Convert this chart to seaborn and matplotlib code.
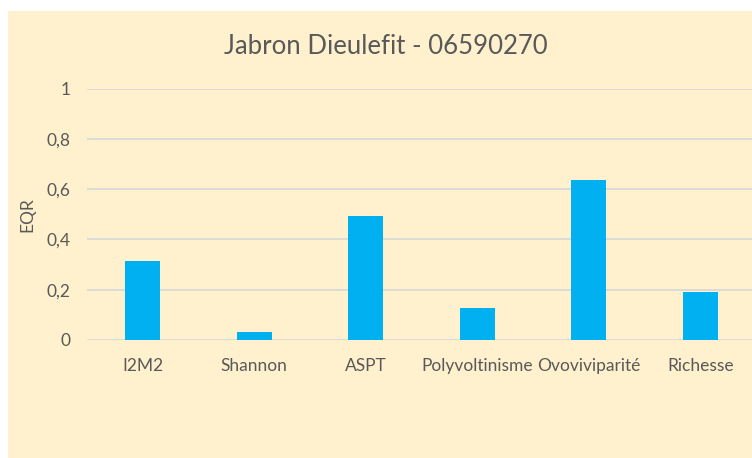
import matplotlib
matplotlib.use("Agg")
import matplotlib.pyplot as plt
from matplotlib.patches import Rectangle
import seaborn as sns
import pandas as pd

# Indices and their EQR values
categories = ["I2M2", "Shannon", "ASPT", "Polyvoltinisme", "Ovoviviparité", "Richesse"]
eqr_values = [0.315, 0.032, 0.492, 0.127, 0.636, 0.191]
y_ticks = [0, 0.2, 0.4, 0.6, 0.8, 1]
y_tick_labels = ["0", "0,2", "0,4", "0,6", "0,8", "1"]

panel_color = "#FFF1CD"
bar_color = "#00B0F0"
text_color = "#595959"
grid_color = "#D9D9D9"

sns.set_theme(style="white")
plt.rcParams["font.family"] = ["Lato", "DejaVu Sans"]

W, H = 752, 458
fig = plt.figure(figsize=(W / 100, H / 100), dpi=100)
fig.patch.set_facecolor("white")

# Chart area panel, offset from the top-left corner
fig.patches.append(Rectangle((8 / W, 0), 1 - 8 / W, 1 - 11 / H,
                             transform=fig.transFigure, facecolor=panel_color,
                             edgecolor="none", zorder=-10))

ax_left, ax_right = 87 / W, 756 / W
ax_bottom, ax_top = 1 - 340 / H, 1 - 88.5 / H
ax = fig.add_axes([ax_left, ax_bottom, ax_right - ax_left, ax_top - ax_bottom])
ax.set_facecolor("none")
ax.set_zorder(1)

df = pd.DataFrame({"Indice": categories, "EQR": eqr_values})
sns.barplot(data=df, x="Indice", y="EQR", color=bar_color, width=0.31,
            saturation=1, linewidth=0, ax=ax, zorder=3)

ax.set_ylim(0, 1)
ax.set_xlim(-0.5, len(categories) - 0.5)
ax.set_yticks(y_ticks)
ax.set_yticklabels(y_tick_labels)
ax.yaxis.grid(True, color=grid_color, linewidth=1.3, zorder=0)
ax.set_axisbelow(True)
for s in ax.spines.values():
    s.set_visible(False)
ax.tick_params(axis="both", length=0, labelsize=12.5, colors=text_color)
ax.tick_params(axis="y", pad=12)
ax.tick_params(axis="x", pad=13)
ax.set_xlabel("")
ax.set_ylabel("EQR", fontsize=12.5, color=text_color, labelpad=8)

fig.text(386 / W, 1 - 46 / H, "Jabron Dieulefit - 06590270", ha="center",
         va="center", fontsize=18.5, color=text_color)

fig.savefig("out.png", dpi=100, facecolor=fig.get_facecolor())
